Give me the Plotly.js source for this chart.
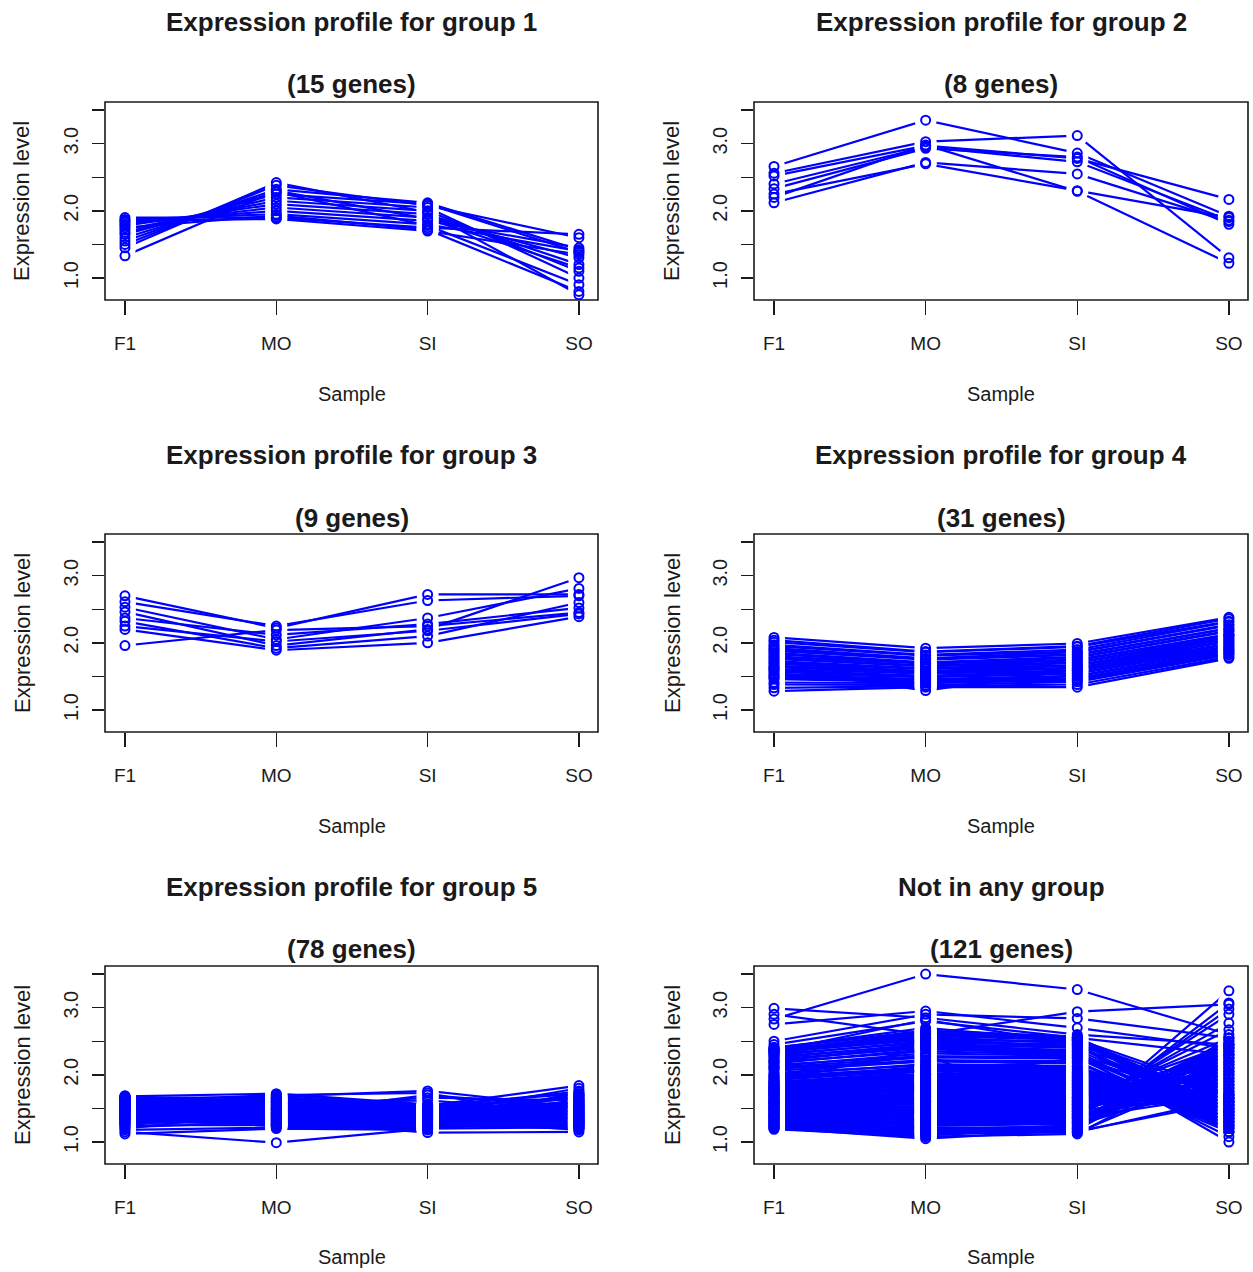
<!DOCTYPE html>
<html>
<head>
<meta charset="utf-8">
<script src="https://cdn.plot.ly/plotly-3.0.1.min.js"></script>
<style>
html,body{margin:0;padding:0;background:#fff;}
#chart{width:1253px;height:1272px;}
</style>
</head>
<body>
<div id="chart"></div>
<script>
// ---------------- data ----------------
const samples = ['F1', 'MO', 'SI', 'SO'];

const panelTitles = [
  'Expression profile for group 1',
  'Expression profile for group 2',
  'Expression profile for group 3',
  'Expression profile for group 4',
  'Expression profile for group 5',
  'Not in any group'
];
const panelSubtitles = ['(15 genes)', '(8 genes)', '(9 genes)', '(31 genes)', '(78 genes)', '(121 genes)'];

const yTickVals = [1.0, 1.5, 2.0, 2.5, 3.0, 3.5];
const yTickText = ['1.0', '', '2.0', '', '3.0', ''];

// group 1 (15 genes)
const g1_F1 = [1.90, 1.87, 1.85, 1.83, 1.80, 1.78, 1.75, 1.72, 1.68, 1.65, 1.60, 1.55, 1.50, 1.45, 1.33];
const g1_MO = [1.90, 1.95, 1.88, 2.00, 2.05, 2.10, 1.93, 2.15, 2.20, 2.25, 2.28, 2.32, 2.38, 2.42, 2.30];
const g1_SI = [1.75, 1.80, 1.70, 1.85, 1.90, 1.95, 1.72, 2.00, 2.05, 2.10, 1.78, 2.12, 2.08, 1.98, 1.88];
const g1_SO = [1.65, 1.40, 1.35, 1.45, 1.30, 1.20, 0.80, 1.10, 1.00, 1.38, 0.90, 1.42, 1.60, 0.75, 1.15];

// group 2 (8 genes)
const g2_F1 = [2.66, 2.56, 2.52, 2.40, 2.33, 2.20, 2.12, 2.25];
const g2_MO = [3.35, 3.03, 2.97, 2.95, 2.93, 2.98, 2.72, 2.70];
const g2_SI = [2.86, 3.12, 2.78, 2.73, 2.80, 2.29, 2.55, 2.30];
const g2_SO = [1.92, 1.30, 2.17, 1.86, 1.80, 1.22, 1.84, 1.90];

// group 3 (9 genes)
const g3_F1 = [2.70, 2.61, 2.53, 2.46, 2.37, 2.32, 2.25, 2.20, 1.96];
const g3_MO = [2.22, 2.25, 2.05, 1.96, 2.12, 1.92, 2.02, 1.89, 2.19];
const g3_SI = [2.72, 2.63, 2.37, 2.20, 2.28, 2.10, 2.18, 2.00, 2.25];
const g3_SO = [2.72, 2.70, 2.81, 2.97, 2.52, 2.60, 2.43, 2.39, 2.45];

// group 4 (31 genes)
const g4_F1 = [2.08, 2.04, 2.01, 1.97, 1.95, 1.92, 1.90, 1.88, 1.85, 1.83, 1.80, 1.78, 1.76, 1.73, 1.71, 1.69,
               1.66, 1.64, 1.61, 1.59, 1.57, 1.54, 1.52, 1.50, 1.48, 1.46, 1.41, 1.38, 1.33, 1.28, 1.62];
const g4_MO = [1.92, 1.87, 1.86, 1.82, 1.81, 1.77, 1.76, 1.75, 1.71, 1.70, 1.69, 1.66, 1.65, 1.62, 1.61, 1.58,
               1.57, 1.55, 1.54, 1.51, 1.50, 1.49, 1.46, 1.45, 1.44, 1.42, 1.40, 1.37, 1.36, 1.34, 1.29];
const g4_SI = [1.99, 1.95, 1.94, 1.90, 1.87, 1.86, 1.83, 1.82, 1.79, 1.78, 1.75, 1.74, 1.71, 1.70, 1.67, 1.66,
               1.63, 1.62, 1.59, 1.58, 1.55, 1.54, 1.51, 1.50, 1.47, 1.46, 1.44, 1.42, 1.38, 1.34, 1.60];
const g4_SO = [2.38, 2.36, 2.32, 2.31, 2.27, 2.26, 2.22, 2.21, 2.18, 2.17, 2.13, 2.12, 2.10, 2.07, 2.06, 2.03,
               2.02, 1.99, 1.98, 1.95, 1.94, 1.92, 1.90, 1.89, 1.87, 1.85, 1.84, 1.82, 1.79, 1.77, 2.11];

// group 5 (78 genes)
const g5_F1 = [1.15, 1.18, 1.20, 1.22, 1.23, 1.25, 1.26, 1.27, 1.28, 1.29, 1.30, 1.31, 1.32, 1.33, 1.34, 1.35,
               1.35, 1.36, 1.37, 1.38, 1.38, 1.39, 1.40, 1.40, 1.41, 1.42, 1.42, 1.43, 1.44, 1.44, 1.45, 1.45,
               1.46, 1.47, 1.47, 1.48, 1.48, 1.49, 1.50, 1.50, 1.51, 1.51, 1.52, 1.52, 1.53, 1.53, 1.54, 1.54,
               1.55, 1.55, 1.56, 1.56, 1.57, 1.57, 1.58, 1.58, 1.59, 1.59, 1.60, 1.60, 1.61, 1.61, 1.62, 1.62,
               1.63, 1.63, 1.64, 1.64, 1.65, 1.65, 1.66, 1.66, 1.67, 1.67, 1.68, 1.68, 1.69, 1.12];
const g5_MO = [0.99, 1.22, 1.45, 1.30, 1.60, 1.25, 1.50, 1.35, 1.68, 1.40, 1.28, 1.55, 1.33, 1.62, 1.42, 1.24,
               1.58, 1.48, 1.36, 1.65, 1.27, 1.52, 1.44, 1.32, 1.60, 1.38, 1.70, 1.26, 1.50, 1.42, 1.56, 1.30,
               1.64, 1.46, 1.34, 1.58, 1.23, 1.52, 1.40, 1.66, 1.28, 1.48, 1.36, 1.62, 1.44, 1.25, 1.54, 1.38,
               1.68, 1.30, 1.50, 1.42, 1.60, 1.27, 1.46, 1.34, 1.64, 1.52, 1.24, 1.56, 1.40, 1.70, 1.32, 1.48,
               1.36, 1.58, 1.44, 1.29, 1.62, 1.50, 1.38, 1.66, 1.26, 1.54, 1.42, 1.72, 1.32, 1.20];
const g5_SI = [1.20, 1.25, 1.30, 1.28, 1.40, 1.22, 1.45, 1.33, 1.50, 1.38, 1.25, 1.48, 1.30, 1.52, 1.35, 1.20,
               1.44, 1.42, 1.28, 1.55, 1.24, 1.46, 1.36, 1.30, 1.50, 1.34, 1.73, 1.22, 1.42, 1.38, 1.48, 1.27,
               1.52, 1.40, 1.32, 1.62, 1.20, 1.45, 1.35, 1.54, 1.25, 1.43, 1.31, 1.50, 1.40, 1.23, 1.47, 1.34,
               1.76, 1.28, 1.44, 1.38, 1.51, 1.24, 1.42, 1.30, 1.53, 1.66, 1.21, 1.48, 1.36, 1.55, 1.29, 1.43,
               1.33, 1.49, 1.39, 1.26, 1.52, 1.46, 1.35, 1.54, 1.22, 1.47, 1.70, 1.56, 1.14, 1.18];
const g5_SO = [1.35, 1.20, 1.40, 1.55, 1.25, 1.30, 1.60, 1.18, 1.45, 1.70, 1.35, 1.50, 1.28, 1.65, 1.40, 1.22,
               1.58, 1.32, 1.48, 1.72, 1.26, 1.42, 1.62, 1.20, 1.38, 1.52, 1.30, 1.45, 1.68, 1.24, 1.55, 1.34,
               1.75, 1.28, 1.50, 1.44, 1.60, 1.36, 1.22, 1.64, 1.40, 1.56, 1.30, 1.48, 1.70, 1.26, 1.42, 1.58,
               1.52, 1.32, 1.66, 1.38, 1.25, 1.46, 1.80, 1.54, 1.34, 1.62, 1.30, 1.44, 1.72, 1.28, 1.50, 1.60,
               1.24, 1.42, 1.68, 1.36, 1.56, 1.20, 1.48, 1.84, 1.64, 1.32, 1.52, 1.40, 1.15, 1.76];

// not in any group (121 genes)
const g6_F1 = [2.83, 2.90, 2.99, 2.75, 2.50, 2.45, 2.40, 2.35, 2.30, 2.38,
               1.80, 1.60, 2.00, 1.50, 1.70, 2.10, 1.40, 1.95,
               1.90, 1.60, 2.20, 1.75,
               1.19, 1.20, 1.21, 1.22, 1.23, 1.24, 1.25, 1.26, 1.27, 1.28, 1.29, 1.30, 1.31, 1.32, 1.33, 1.34,
               1.35, 1.36, 1.37, 1.38, 1.39, 1.40, 1.41, 1.42, 1.43, 1.44, 1.45, 1.46, 1.47, 1.48, 1.49, 1.50,
               1.51, 1.52, 1.53, 1.54, 1.55, 1.56, 1.57, 1.58, 1.59, 1.60, 1.61, 1.62, 1.63, 1.64, 1.65, 1.66,
               1.67, 1.68, 1.69, 1.70, 1.71, 1.72, 1.73, 1.74, 1.75, 1.76, 1.77, 1.78, 1.79, 1.80, 1.81, 1.82,
               1.83, 1.84, 1.85, 1.86, 1.87, 1.88, 1.89, 1.90, 1.92, 1.94, 1.96, 1.98, 2.00, 2.03, 2.06, 2.09,
               2.11, 2.13, 2.15, 2.17, 2.19, 2.21, 2.23, 2.25, 2.27, 2.29, 2.31, 2.33, 2.34, 2.35, 2.36, 2.37,
               2.38, 2.40, 2.41];
const g6_MO = [3.50, 2.60, 2.85, 2.95, 2.90, 2.80, 2.70, 2.82, 2.65, 2.55,
               2.00, 1.70, 2.30, 1.40, 1.90, 2.20, 1.60, 2.10,
               2.40, 2.10, 2.45, 1.95,
               1.08, 1.12, 1.05, 1.15, 1.10, 1.18, 1.14, 1.20, 1.16, 1.22, 1.25, 1.19, 1.28, 1.24, 1.30, 1.27,
               1.33, 1.29, 1.36, 1.32, 1.38, 1.35, 1.41, 1.37, 1.44, 1.40, 1.46, 1.43, 1.49, 1.45, 1.52, 1.48,
               1.54, 1.51, 1.57, 1.53, 1.60, 1.56, 1.62, 1.59, 1.65, 1.61, 1.68, 1.64, 1.70, 1.67, 1.73, 1.69,
               1.76, 1.72, 1.78, 1.75, 1.81, 1.77, 1.84, 1.80, 1.86, 1.83, 1.89, 1.85, 1.92, 1.88, 1.94, 1.91,
               1.97, 1.93, 2.00, 1.96, 2.02, 1.99, 2.05, 2.01, 2.08, 2.06, 2.12, 2.10, 2.16, 2.14, 2.20, 2.22,
               2.26, 2.32, 2.28, 2.38, 2.35, 2.42, 2.40, 2.46, 2.44, 2.50, 2.48, 2.54, 2.52, 2.58, 2.56, 2.62,
               2.60, 2.66, 2.64];
const g6_SI = [3.27, 2.94, 2.60, 2.70, 2.84, 2.55, 2.50, 2.45, 2.52, 2.40,
               1.30, 1.35, 1.40, 1.45, 1.50, 1.55, 1.60, 1.65,
               2.30, 2.20, 2.35, 2.25,
               1.12, 1.15, 1.18, 1.14, 1.20, 1.16, 1.22, 1.19, 1.25, 1.21, 1.28, 1.24, 1.30, 1.27, 1.33, 1.29,
               1.36, 1.32, 1.38, 1.35, 1.41, 1.37, 1.43, 1.40, 1.46, 1.42, 1.48, 1.45, 1.51, 1.47, 1.53, 1.50,
               1.56, 1.52, 1.58, 1.55, 1.61, 1.57, 1.63, 1.60, 1.66, 1.62, 1.68, 1.65, 1.71, 1.67, 1.73, 1.70,
               1.76, 1.72, 1.78, 1.75, 1.81, 1.77, 1.83, 1.80, 1.86, 1.82, 1.88, 1.85, 1.91, 1.87, 1.93, 1.90,
               1.96, 1.92, 1.98, 1.95, 2.01, 1.97, 2.03, 2.00, 2.06, 2.04, 2.10, 2.08, 2.13, 2.12, 2.17, 2.20,
               2.24, 2.28, 2.26, 2.33, 2.30, 2.37, 2.35, 2.40, 2.42, 2.45, 2.44, 2.48, 2.50, 2.52, 2.47, 2.55,
               2.53, 2.57, 2.56];
const g6_SO = [2.60, 3.05, 2.45, 2.40, 2.55, 2.30, 1.60, 1.30, 1.45, 1.70,
               3.25, 3.07, 2.98, 2.90, 2.77, 2.67, 2.55, 2.45,
               1.00, 1.08, 1.15, 1.22,
               2.30, 1.65, 2.45, 2.10, 2.55, 1.60, 2.20, 2.40, 1.95, 2.35, 2.05, 2.50, 1.85, 2.25, 2.15, 2.45,
               1.70, 2.30, 2.00, 2.40, 1.80, 2.20, 2.50, 1.90, 2.10, 2.35, 1.65, 2.25, 1.95, 2.45, 1.75, 2.15,
               2.40, 1.85, 2.05, 2.30, 1.60, 2.20, 1.90, 2.35, 1.70, 2.10, 1.55, 2.25, 1.80, 2.00, 1.50, 2.15,
               1.65, 1.95, 1.45, 2.05, 1.60, 1.85, 1.40, 2.00, 1.55, 1.75, 1.35, 1.90, 1.50, 1.70, 1.30, 1.80,
               1.45, 1.65, 1.25, 1.60, 1.40, 1.55, 1.20, 1.50, 1.35, 1.45, 1.15, 1.40, 1.30, 1.25, 1.35, 1.20,
               1.45, 1.30, 1.55, 1.25, 1.60, 1.40, 1.15, 1.50, 1.35, 1.65, 1.20, 1.45, 1.70, 1.30, 1.55, 1.40,
               1.75, 1.25, 1.50];

const groupData = [
  [g1_F1, g1_MO, g1_SI, g1_SO],
  [g2_F1, g2_MO, g2_SI, g2_SO],
  [g3_F1, g3_MO, g3_SI, g3_SO],
  [g4_F1, g4_MO, g4_SI, g4_SO],
  [g5_F1, g5_MO, g5_SI, g5_SO],
  [g6_F1, g6_MO, g6_SI, g6_SO]
];

// ---------------- layout helpers ----------------
const W = 1253, H = 1272;
const colBox = [[105, 598], [754, 1248]];
const rowBox = [[102, 300], [534, 732], [966, 1164]];
const titleY = [22, 455, 887];
const subY = [84, 518, 949];
const sampleY = [394, 826, 1257];
const ylabX = [22, 672];
const FONT = '"Liberation Sans", Arial, Helvetica, sans-serif';
const BLUE = '#0000ff';
const INK = '#1a1a1a';
const px = v => v / W;
const py = v => 1 - v / H;

const traces = [];
const layout = {
  width: W, height: H,
  margin: {l: 0, r: 0, t: 0, b: 0},
  paper_bgcolor: '#ffffff', plot_bgcolor: '#ffffff',
  showlegend: false,
  font: {family: FONT, color: INK},
  annotations: [], shapes: []
};

groupData.forEach((cols, k) => {
  const row = Math.floor(k / 2), col = k % 2;
  const sfx = k === 0 ? '' : String(k + 1);
  const xa = 'x' + sfx, ya = 'y' + sfx;
  const n = cols[0].length;

  const lx = [], ly = [], mx = [], my = [];
  for (let i = 0; i < n; i++) {
    for (let j = 0; j < 4; j++) {
      lx.push(samples[j]); ly.push(cols[j][i]);
      mx.push(samples[j]); my.push(cols[j][i]);
    }
    lx.push(null); ly.push(null);
  }
  traces.push({type: 'scatter', mode: 'lines', x: lx, y: ly, xaxis: xa, yaxis: ya,
    connectgaps: false, line: {color: BLUE, width: 2.2}, hoverinfo: 'skip'});
  traces.push({type: 'scatter', mode: 'markers', x: mx, y: my, xaxis: xa, yaxis: ya,
    marker: {symbol: 'circle', size: 22, color: '#ffffff', line: {width: 0}}, hoverinfo: 'skip'});
  traces.push({type: 'scatter', mode: 'markers', x: mx, y: my, xaxis: xa, yaxis: ya,
    marker: {symbol: 'circle-open', size: 9, color: BLUE, line: {color: BLUE, width: 2}}, hoverinfo: 'skip'});

  const [x0, x1] = colBox[col];
  const [y0, y1] = rowBox[row];
  layout['xaxis' + sfx] = {
    domain: [px(x0), px(x1)], anchor: ya,
    type: 'category', categoryorder: 'array', categoryarray: samples,
    range: [-0.132, 3.126],
    showline: false, showgrid: false, zeroline: false,
    ticks: 'outside', ticklen: 14, tickwidth: 1.5, tickcolor: INK,
    ticklabelstandoff: 12,
    tickfont: {family: FONT, size: 19, color: INK}, fixedrange: true
  };
  layout['yaxis' + sfx] = {
    domain: [py(y1), py(y0)], anchor: xa,
    range: [0.673, 3.62],
    tickmode: 'array', tickvals: yTickVals, ticktext: yTickText, tickangle: -90,
    showline: false, showgrid: false, zeroline: false,
    ticks: 'outside', ticklen: 12, tickwidth: 1.5, tickcolor: INK,
    ticklabelstandoff: 6,
    tickfont: {family: FONT, size: 20, color: INK}, fixedrange: true
  };
  layout.shapes.push({type: 'rect', xref: xa + ' domain', yref: ya + ' domain',
    x0: 0, x1: 1, y0: 0, y1: 1, layer: 'above', line: {color: INK, width: 1.6}});

  const cx = (x0 + x1) / 2;
  layout.annotations.push({xref: 'paper', yref: 'paper', x: px(cx), y: py(titleY[row]),
    xanchor: 'center', yanchor: 'middle', showarrow: false,
    text: '<b>' + panelTitles[k] + '</b>', font: {family: FONT, size: 26, color: INK}});
  layout.annotations.push({xref: 'paper', yref: 'paper', x: px(cx), y: py(subY[row]),
    xanchor: 'center', yanchor: 'middle', showarrow: false,
    text: '<b>' + panelSubtitles[k] + '</b>', font: {family: FONT, size: 26, color: INK}});
  layout.annotations.push({xref: 'paper', yref: 'paper', x: px(cx), y: py(sampleY[row]),
    xanchor: 'center', yanchor: 'middle', showarrow: false,
    text: 'Sample', font: {family: FONT, size: 20, color: INK}});
  layout.annotations.push({xref: 'paper', yref: 'paper', x: px(ylabX[col]), y: py((y0 + y1) / 2),
    xanchor: 'center', yanchor: 'middle', showarrow: false, textangle: -90,
    text: 'Expression level', font: {family: FONT, size: 22, color: INK}});
});

Plotly.newPlot('chart', traces, layout, {staticPlot: true, displayModeBar: false});
</script>
</body>
</html>
